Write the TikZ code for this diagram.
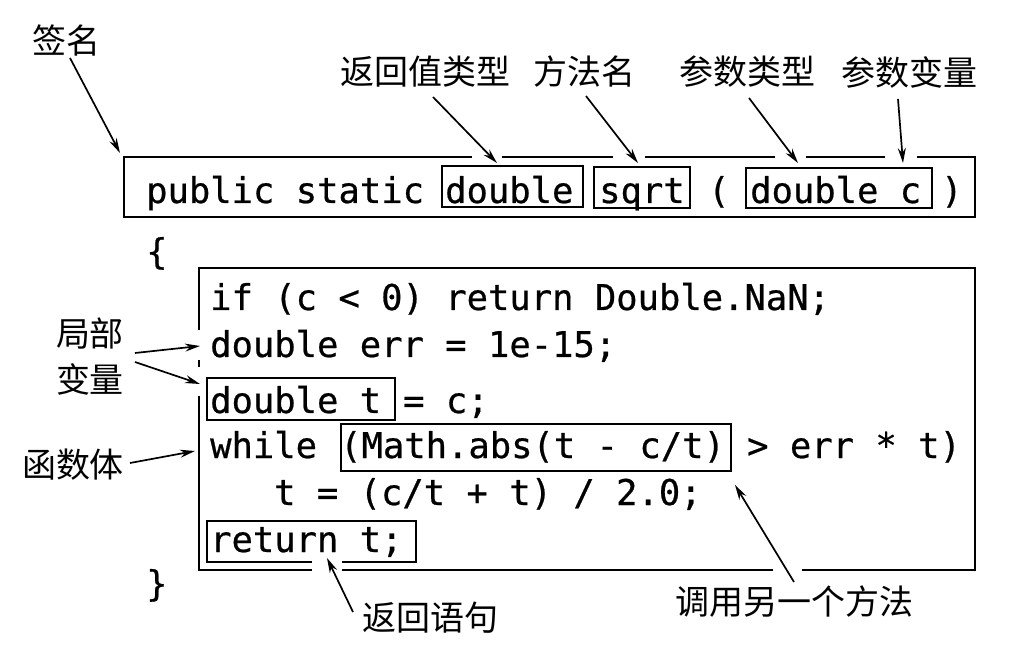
\documentclass[tikz,border=0pt]{standalone}
\usepackage{fontspec}
\setmonofont[FakeBold=0.6]{DejaVu Sans Mono}
\newfontfamily\cjk{Noto Sans CJK SC}
\usetikzlibrary{arrows.meta,fit}
\tikzset{
  code/.style={anchor=base west,inner sep=0pt,font=\ttfamily\fontsize{35.5}{40}\selectfont},
  lab/.style={inner sep=0pt,font=\cjk\fontsize{34}{46}\selectfont,align=center},
  frame/.style={line width=1.8pt,black},
  thinbox/.style={draw,line width=1.5pt,inner sep=0pt},
  pointer/.style={line width=1.7pt,-{Stealth[length=15pt,width=8pt]}}
}
\begin{document}
\begin{tikzpicture}[x=1pt,y=-1pt]
\useasboundingbox[fill=white] (0,0) rectangle (1034,652);

% header line
\node[code] (pub) at (146,203) {public static};
\node[code] (tdbl) at (445,203) {double};
\node[code] (tsq) at (599,203) {sqrt};
\node[code] (lp) at (708,203) {(};
\node[code] (tdc) at (750,203) {double c};
\node[code] (rp) at (941,203) {)};
\node[thinbox,fit={(442,166) (583,207)}] (bdbl) {};
\node[thinbox,fit={(594,167) (690,208)}] (bsq) {};
\node[thinbox,fit={(746,168) (932,208)}] (bdc) {};

% header frame with gaps
\draw[frame] (472,157) -- (124,157) -- (124,217) -- (975,217) -- (975,157) -- (917,157);
\draw[frame] (502,157) -- (613,157);
\draw[frame] (645,157) -- (775,157);
\draw[frame] (806,157) -- (885,157);

% braces
\node[code] (lb) at (146,264) {\{};
\node[code] (rb) at (146,596) {\}};

% body
\node[code] (l1) at (210,310) {if (c < 0) return Double.NaN;};
\node[code] (l2) at (210,357) {double err = 1e-15;};
\node[code] (l3a) at (210,413) {double t};
\node[code] (l3b) at (403,413) {= c;};
\node[code] (l4a) at (210,458) {while};
\node[code] (l4b) at (340,458) {(Math.abs(t - c/t)};
\node[code] (l4c) at (747,458) {> err * t)};
\node[code] (l5) at (274,505) {t = (c/t + t) / 2.0;};
\node[code] (l6) at (210,552) {return t;};
\node[thinbox,fit={(207,378) (395,420)}] (bdt) {};
\node[thinbox,fit={(341,424) (731,471)}] (bmath) {};

% return box with gap
\draw[line width=1.5pt] (312,562) -- (207,562) -- (207,521) -- (416,521) -- (416,562) -- (342,562);

% body frame with gaps
\draw[frame] (199,330) -- (199,268) -- (975,268) -- (975,570) -- (802,570);
\draw[frame] (773,570) -- (342,570);
\draw[frame] (312,570) -- (199,570) -- (199,396);
\draw[frame] (199,360) -- (199,367);

% labels
\node[lab] (sig) at (66,40) {签名};
\node[lab] (rtype) at (425,72) {返回值类型};
\node[lab] (mname) at (584,72) {方法名};
\node[lab] (ptype) at (747,72) {参数类型};
\node[lab] (pvar) at (909,72) {参数变量};
\node[lab] (local) at (90,357) {局部\\变量};
\node[lab] (body) at (73,465) {函数体};
\node[lab] (ret) at (430,618) {返回语句};
\node[lab] (call) at (794,602) {调用另一个方法};

% arrow endpoints
\coordinate (sigS) at (70,58);   \coordinate (sigE) at (120,153);
\coordinate (rtS) at (433,97);   \coordinate (rtE) at (497,163);
\coordinate (mnS) at (586,96);   \coordinate (mnE) at (638,163);
\coordinate (ptS) at (749,98);   \coordinate (ptE) at (798,163);
\coordinate (pvS) at (898,99);   \coordinate (pvE) at (903,163);
\coordinate (loS1) at (135,353); \coordinate (loE1) at (200,346);
\coordinate (loS2) at (135,362); \coordinate (loE2) at (200,384);
\coordinate (bdS) at (130,463);  \coordinate (bdE) at (195,451);
\coordinate (reS) at (353,612);  \coordinate (reE) at (327,558);
\coordinate (caS) at (794,582);  \coordinate (caE) at (735,485);

\draw[pointer] (sigS) -- (sigE);
\draw[pointer] (rtS) -- (rtE);
\draw[pointer] (mnS) -- (mnE);
\draw[pointer] (ptS) -- (ptE);
\draw[pointer] (pvS) -- (pvE);
\draw[pointer] (loS1) -- (loE1);
\draw[pointer] (loS2) -- (loE2);
\draw[pointer] (bdS) -- (bdE);
\draw[pointer] (reS) -- (reE);
\draw[pointer] (caS) -- (caE);
\end{tikzpicture}
\end{document}
